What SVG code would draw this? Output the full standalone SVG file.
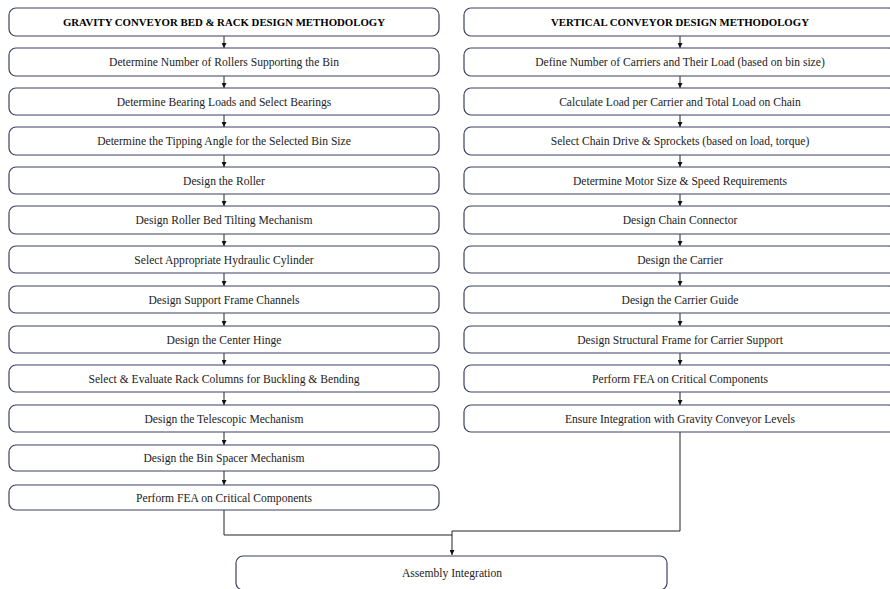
<svg xmlns="http://www.w3.org/2000/svg" width="890" height="589" viewBox="0 0 890 589">
<defs>
<marker id="ah" viewBox="0 0 10 10" refX="10" refY="5" markerWidth="5" markerHeight="5" orient="auto" markerUnits="userSpaceOnUse">
<path d="M0,0 L10,5 L0,10 z" fill="#111"/>
</marker>
<style>
.box{fill:#fff;stroke:#3c4163;stroke-width:1.2}
.t{font-family:"Liberation Serif","Times New Roman",serif;font-size:11.6px;fill:#222;text-anchor:middle;dominant-baseline:central}
.b{font-weight:bold;fill:#000;font-size:10.8px}
.c{fill:none;stroke:#222;stroke-width:1}
</style>
</defs>
<rect width="890" height="589" fill="#fff"/>
<g id="connectors">
<line class="c" x1="224" y1="36" x2="224" y2="48" marker-end="url(#ah)"/>
<line class="c" x1="224" y1="76" x2="224" y2="88" marker-end="url(#ah)"/>
<line class="c" x1="224" y1="115" x2="224" y2="127" marker-end="url(#ah)"/>
<line class="c" x1="224" y1="155" x2="224" y2="167" marker-end="url(#ah)"/>
<line class="c" x1="224" y1="194" x2="224" y2="206" marker-end="url(#ah)"/>
<line class="c" x1="224" y1="234" x2="224" y2="246" marker-end="url(#ah)"/>
<line class="c" x1="224" y1="273" x2="224" y2="286" marker-end="url(#ah)"/>
<line class="c" x1="224" y1="313" x2="224" y2="326" marker-end="url(#ah)"/>
<line class="c" x1="224" y1="353" x2="224" y2="365" marker-end="url(#ah)"/>
<line class="c" x1="224" y1="392" x2="224" y2="405" marker-end="url(#ah)"/>
<line class="c" x1="224" y1="432" x2="224" y2="445" marker-end="url(#ah)"/>
<line class="c" x1="224" y1="471" x2="224" y2="485" marker-end="url(#ah)"/>
<line class="c" x1="680" y1="36" x2="680" y2="48" marker-end="url(#ah)"/>
<line class="c" x1="680" y1="76" x2="680" y2="88" marker-end="url(#ah)"/>
<line class="c" x1="680" y1="115" x2="680" y2="127" marker-end="url(#ah)"/>
<line class="c" x1="680" y1="155" x2="680" y2="167" marker-end="url(#ah)"/>
<line class="c" x1="680" y1="194" x2="680" y2="206" marker-end="url(#ah)"/>
<line class="c" x1="680" y1="234" x2="680" y2="246" marker-end="url(#ah)"/>
<line class="c" x1="680" y1="273" x2="680" y2="286" marker-end="url(#ah)"/>
<line class="c" x1="680" y1="313" x2="680" y2="326" marker-end="url(#ah)"/>
<line class="c" x1="680" y1="353" x2="680" y2="365" marker-end="url(#ah)"/>
<line class="c" x1="680" y1="392" x2="680" y2="405" marker-end="url(#ah)"/>
<polyline class="c" points="224,510 224,535 452,535"/>
<polyline class="c" points="680,432 680,531 452,531 452,555" marker-end="url(#ah)"/>
</g>
<g id="gravity-title"><rect class="box" x="9" y="8" width="430" height="28" rx="7"/><text class="t b" x="224" y="22">GRAVITY CONVEYOR BED &amp; RACK DESIGN METHODOLOGY</text></g>
<g id="g1"><rect class="box" x="9" y="48" width="430" height="28" rx="7"/><text class="t" x="224" y="62">Determine Number of Rollers Supporting the Bin</text></g>
<g id="g2"><rect class="box" x="9" y="88" width="430" height="27" rx="7"/><text class="t" x="224" y="102">Determine Bearing Loads and Select Bearings</text></g>
<g id="g3"><rect class="box" x="9" y="127" width="430" height="28" rx="7"/><text class="t" x="224" y="141">Determine the Tipping Angle for the Selected Bin Size</text></g>
<g id="g4"><rect class="box" x="9" y="167" width="430" height="27" rx="7"/><text class="t" x="224" y="181">Design the Roller</text></g>
<g id="g5"><rect class="box" x="9" y="206" width="430" height="28" rx="7"/><text class="t" x="224" y="220">Design Roller Bed Tilting Mechanism</text></g>
<g id="g6"><rect class="box" x="9" y="246" width="430" height="27" rx="7"/><text class="t" x="224" y="260">Select Appropriate Hydraulic Cylinder</text></g>
<g id="g7"><rect class="box" x="9" y="286" width="430" height="27" rx="7"/><text class="t" x="224" y="300">Design Support Frame Channels</text></g>
<g id="g8"><rect class="box" x="9" y="326" width="430" height="27" rx="7"/><text class="t" x="224" y="340">Design the Center Hinge</text></g>
<g id="g9"><rect class="box" x="9" y="365" width="430" height="27" rx="7"/><text class="t" x="224" y="379">Select &amp; Evaluate Rack Columns for Buckling &amp; Bending</text></g>
<g id="g10"><rect class="box" x="9" y="405" width="430" height="27" rx="7"/><text class="t" x="224" y="419">Design the Telescopic Mechanism</text></g>
<g id="g11"><rect class="box" x="9" y="445" width="430" height="26" rx="7"/><text class="t" x="224" y="458">Design the Bin Spacer Mechanism</text></g>
<g id="g12"><rect class="box" x="9" y="485" width="430" height="25" rx="7"/><text class="t" x="224" y="498">Perform FEA on Critical Components</text></g>
<g id="vertical-title"><rect class="box" x="464" y="8" width="432" height="28" rx="7"/><text class="t b" x="680" y="22">VERTICAL CONVEYOR DESIGN METHODOLOGY</text></g>
<g id="v1"><rect class="box" x="464" y="48" width="432" height="28" rx="7"/><text class="t" x="680" y="62">Define Number of Carriers and Their Load (based on bin size)</text></g>
<g id="v2"><rect class="box" x="464" y="88" width="432" height="27" rx="7"/><text class="t" x="680" y="102">Calculate Load per Carrier and Total Load on Chain</text></g>
<g id="v3"><rect class="box" x="464" y="127" width="432" height="28" rx="7"/><text class="t" x="680" y="141">Select Chain Drive &amp; Sprockets (based on load, torque)</text></g>
<g id="v4"><rect class="box" x="464" y="167" width="432" height="27" rx="7"/><text class="t" x="680" y="181">Determine Motor Size &amp; Speed Requirements</text></g>
<g id="v5"><rect class="box" x="464" y="206" width="432" height="28" rx="7"/><text class="t" x="680" y="220">Design Chain Connector</text></g>
<g id="v6"><rect class="box" x="464" y="246" width="432" height="27" rx="7"/><text class="t" x="680" y="260">Design the Carrier</text></g>
<g id="v7"><rect class="box" x="464" y="286" width="432" height="27" rx="7"/><text class="t" x="680" y="300">Design the Carrier Guide</text></g>
<g id="v8"><rect class="box" x="464" y="326" width="432" height="27" rx="7"/><text class="t" x="680" y="340">Design Structural Frame for Carrier Support</text></g>
<g id="v9"><rect class="box" x="464" y="365" width="432" height="27" rx="7"/><text class="t" x="680" y="379">Perform FEA on Critical Components</text></g>
<g id="v10"><rect class="box" x="464" y="405" width="432" height="27" rx="7"/><text class="t" x="680" y="419">Ensure Integration with Gravity Conveyor Levels</text></g>
<g id="assembly"><rect class="box" x="236" y="556" width="431" height="34" rx="7"/><text class="t" x="452" y="573">Assembly Integration</text></g>
</svg>
